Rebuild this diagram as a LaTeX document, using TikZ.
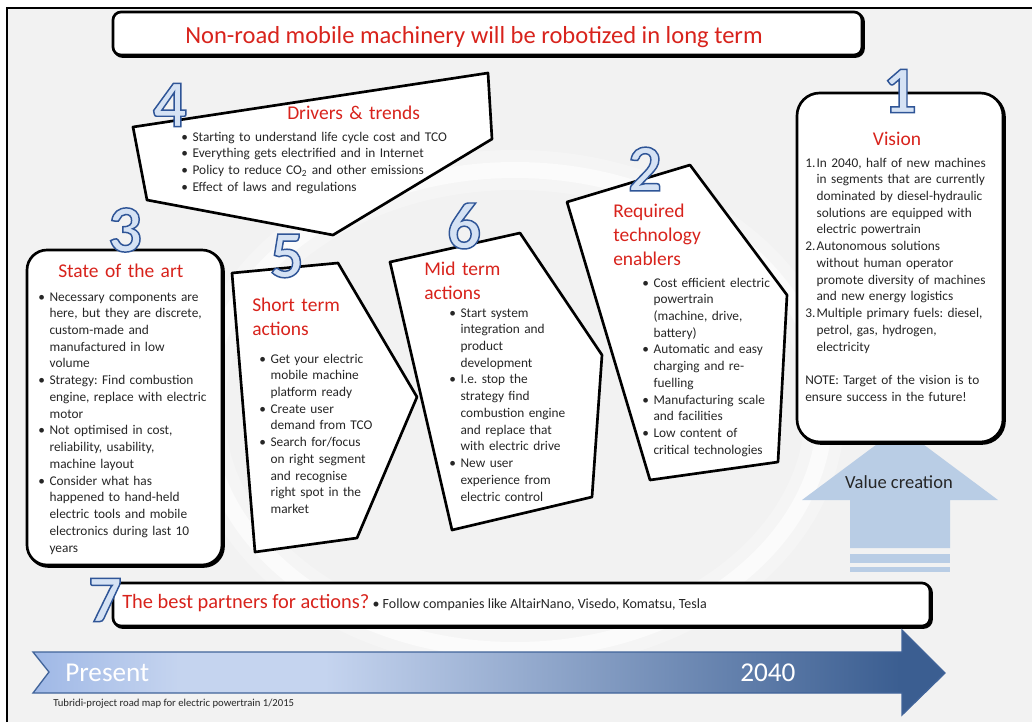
\documentclass[tikz,border=0pt]{standalone}
\usepackage{fontspec}
\setmainfont{Carlito}
\newfontfamily\digitfont{Carlito}[UprightFont={* Bold}, FakeBold=2.2]
\usetikzlibrary{positioning}

\definecolor{PageGray}{HTML}{F2F2F2}
\definecolor{TitleRed}{HTML}{D8231C}
\definecolor{BodyText}{HTML}{262626}
\definecolor{DigitBlue}{HTML}{2F5597}
\definecolor{DigitFill}{HTML}{D5E2F4}
\definecolor{ValueBlue}{HTML}{B9CDE5}
\definecolor{TimeLight}{HTML}{9FB8E6}
\definecolor{TimePale}{HTML}{C5D4EF}
\definecolor{TimeDark}{HTML}{3B5E91}
\definecolor{TimeEdge}{HTML}{41649A}

\pgfdeclarehorizontalshading{timeline}{100bp}{color(0bp)=(TimeLight); color(25bp)=(TimeLight);
	color(33bp)=(TimePale); color(41bp)=(TimePale); color(72.5bp)=(TimeDark); color(100bp)=(TimeDark)}

% bullet and numbered lines with hanging indent
\newlength\bulind
\setlength\bulind{8.5pt}
\newcommand\itm[1]{\hangindent=\bulind\hangafter=1\noindent\makebox[\bulind][l]{\textbullet}#1\par}
\newcommand\nitem[2]{\hangindent=\bulind\hangafter=1\noindent\makebox[\bulind][l]{#1}#2\par}
% outlined step numbers: stroke and fill in two blues
\newcommand\bignum[1]{{\pgfsetstrokecolor{DigitBlue}\pgfsetfillcolor{DigitFill}#1}}
\frenchspacing

\begin{document}
\begin{tikzpicture}[x=0.75pt, y=-0.75pt, every node/.style={inner sep=0pt},
	box/.style={draw=black, line width=2pt, fill=white, line join=round},
	shadow/.style={draw=black, line width=2pt},
	head/.style={anchor=base west, text width=200pt, align=left, text=TitleRed, font=\fontsize{14.6}{18}\selectfont},
	body/.style={anchor=base west, text width=200pt, align=left, text=BodyText, font=\fontsize{10}{12.56}\selectfont},
	digit/.style={font=\digitfont\fontsize{50}{50}\selectfont}]
	\useasboundingbox (0,0) rectangle (1032,722);
	% page frame
	\fill[PageGray] (7,8) rectangle (1032,722);
	\draw[line width=1.5pt] (7,722) -- (7,8) -- (1032,8);
	% faint swirl behind the boxes
	\draw[white, line width=30pt, opacity=0.25] (515,410) ellipse (310 and 240);
	\draw[white, line width=12pt, opacity=0.6] (515,410) ellipse (310 and 240);
	%
	% Title
	\draw[shadow, rounded corners=6pt] (114.5,13.5) rectangle (863.5,56.5);
	\draw[box, rounded corners=6pt] (113,12) rectangle (862,55);
	\node[font=\fontsize{18.4}{22}\selectfont, text=TitleRed, anchor=base] (title) at (474,43) {Non-road mobile machinery will be robotized in long term};
	%
	% 4 Drivers & trends
	\draw[box] (133,127) -- (488,73) -- (492,139) -- (333,235) -- (147,200) -- cycle;
	\node[head] (drvh) at (287,119) {Drivers \& trends};
	\node[body] (drvb) at (181,141) {\itm{Starting to understand life cycle cost and TCO}\itm{Everything gets electrified and in Internet}%
		\itm{Policy to reduce CO\textsubscript{2} and other emissions}\itm{Effect of laws and regulations}};
	\node[digit] (n4) at (170,105) {\bignum{4}};
	%
	% 3 State of the art
	\draw[shadow, rounded corners=15pt] (28.5,251.5) rectangle (223.5,566.5);
	\draw[box, rounded corners=15pt] (27,250) rectangle (222,565);
	\node[head] (arth) at (58,277) {State of the art};
	\node[body] (artb) at (38,301) {\itm{Necessary components are\newline here, but they are discrete,\newline custom-made and\newline manufactured in low\newline volume}%
		\itm{Strategy: Find combustion\newline engine, replace with electric\newline motor}%
		\itm{Not optimised in cost,\newline reliability, usability,\newline machine layout}%
		\itm{Consider what has\newline happened to hand-held\newline electric tools and mobile\newline electronics during last 10\newline years}};
	\node[digit] (n3) at (125,230) {\bignum{3}};
	%
	% 5 Short term actions
	\draw[box] (232,273) -- (338,263) -- (417,397) -- (357,538) -- (255,552) -- cycle;
	\node[head] (shorth) at (252,311) {Short term\\actions};
	\node[body] (shortb) at (259,363) {\itm{Get your electric\newline mobile machine\newline platform ready}\itm{Create user\newline demand from TCO}%
		\itm{Search for/focus\newline on right segment\newline and recognise\newline right spot in the\newline market}};
	\node[digit] (n5) at (287,256) {\bignum{5}};
	%
	% 6 Mid term actions
	\draw[box] (390,262) -- (520,233) -- (602,355) -- (592,497) -- (452,530) -- cycle;
	\node[head] (midh) at (424,275) {Mid term\\actions};
	\node[body] (midb) at (449,317) {\itm{Start system\newline integration and\newline product\newline development}%
		\itm{I.e. stop the\newline strategy find\newline combustion engine\newline and replace that\newline with electric drive}%
		\itm{New user\newline experience from\newline electric control}};
	\node[digit] (n6) at (464,226) {\bignum{6}};
	%
	% 2 Required technology enablers
	\draw[box] (567,202) -- (690,165) -- (787,295) -- (778,462) -- (650,480) -- cycle;
	\node[head] (techh) at (613,217) {Required\\technology\\enablers};
	\node[body] (techb) at (642,287) {\itm{Cost efficient electric\newline powertrain\newline (machine, drive,\newline battery)}%
		\itm{Automatic and easy\newline charging and re-\newline fuelling}\itm{Manufacturing scale\newline and facilities}%
		\itm{Low content of\newline critical technologies}};
	\node[digit] (n2) at (645,169) {\bignum{2}};
	%
	% Value creation arrow under the vision
	\fill[ValueBlue] (850,548) -- (850,500) -- (802,500) -- (900,427) -- (998,500) -- (950,500) -- (950,548) -- cycle;
	\fill[ValueBlue] (850,554) rectangle (950,563);
	\fill[ValueBlue] (850,567) rectangle (950,572);
	\node[font=\fontsize{13.9}{16}\selectfont, text=BodyText, anchor=base] (value) at (899,488) {Value creation};
	%
	% 1 Vision
	\draw[shadow, rounded corners=17pt] (798.5,94.5) rectangle (1004.5,443.5);
	\draw[box, rounded corners=17pt] (797,93) rectangle (1003,442);
	\node[anchor=base, text=TitleRed, font=\fontsize{14.6}{18}\selectfont] (vish) at (897,145) {Vision};
	\node[body] (visb) at (805,167) {\nitem{1.}{In 2040, half of new machines\newline in segments that are currently\newline dominated by diesel-hydraulic\newline solutions are equipped with\newline electric powertrain}%
		\nitem{2.}{Autonomous solutions\newline without human operator\newline promote diversity of machines\newline and new energy logistics}%
		\nitem{3.}{Multiple primary fuels: diesel,\newline petrol, gas, hydrogen,\newline electricity}%
		\noindent\mbox{}\par\noindent NOTE: Target of the vision is to\newline ensure success in the future!\par};
	\node[digit] (n1) at (900,91) {\bignum{1}};
	%
	% 7 partners
	\draw[shadow, rounded corners=6pt] (114.5,584.5) rectangle (931.5,627.5);
	\draw[box, rounded corners=6pt] (113,583) rectangle (930,626);
	\node[anchor=base west, text=TitleRed, font=\fontsize{15.3}{18}\selectfont] (parth) at (122,608) {The best partners for actions?};
	\node[right=2pt of parth.base east, anchor=base west, text=BodyText, font=\fontsize{10.5}{12}\selectfont] (partb) {\textbullet\ Follow companies like AltairNano, Visedo, Komatsu, Tesla};
	\node[digit] (n7) at (105,600) {\bignum{7}};
	%
	% time line
	\path[shading=timeline, draw=TimeEdge, line width=1pt] (33,652) -- (902,652) -- (902,630) -- (945,673) -- (902,715) -- (902,693) -- (33,693) -- (49,672) -- cycle;
	\node[anchor=base west, text=white, font=\fontsize{20.4}{24}\selectfont] (present) at (65,681) {Present};
	\node[anchor=base west, text=white, font=\fontsize{20.4}{24}\selectfont] (year) at (740,681) {2040};
	\node[anchor=base west, text=BodyText, font=\fontsize{8}{9}\selectfont] (foot) at (53,706) {Tubridi-project road map for electric powertrain 1/2015};
\end{tikzpicture}
\end{document}
